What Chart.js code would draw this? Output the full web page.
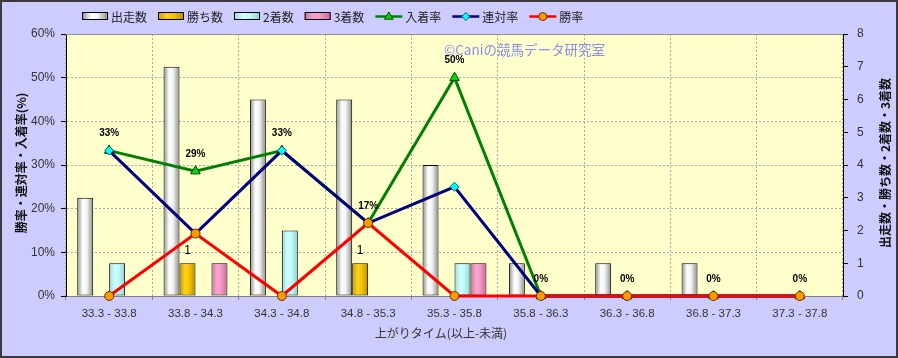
<!DOCTYPE html>
<html><head><meta charset="utf-8">
<script src="https://cdn.jsdelivr.net/npm/chart.js@4.4.0/dist/chart.umd.min.js"></script>
<style>html,body{margin:0;padding:0;background:#ccccff;}#wrap{width:898px;height:358px;position:relative}</style>
</head><body><div id="wrap"><canvas id="c" width="898" height="358"></canvas></div>
<script>
const categories = ["33.3 - 33.8","33.8 - 34.3","34.3 - 34.8","34.8 - 35.3","35.3 - 35.8","35.8 - 36.3","36.3 - 36.8","36.8 - 37.3","37.3 - 37.8"];
const starts   = [3, 7, 6, 6, 4, 1, 1, 1, 0];
const wins     = [0, 1, 0, 1, 0, 0, 0, 0, 0];
const seconds  = [1, 0, 2, 0, 1, 0, 0, 0, 0];
const thirds   = [0, 1, 0, 0, 1, 0, 0, 0, 0];
const placeRate    = [33.3, 28.6, 33.3, 16.7, 50, 0, 0, 0, 0];
const quinellaRate = [33.3, 14.3, 33.3, 16.7, 25, 0, 0, 0, 0];
const winRate      = [0, 14.3, 0, 16.7, 0, 0, 0, 0, 0];
const leftMax = 60, leftStep = 10;
const rightMax = 8, rightStep = 1;
const leftTitle = "勝率・連対率・入着率(%)";
const rightTitle = "出走数・勝ち数・2着数・3着数";
const xTitle = "上がりタイム(以上-未満)";
const watermark = "©Caniの競馬データ研究室";

const FF = '"Noto Sans CJK JP", "DejaVu Sans", sans-serif';
const NF = '"Liberation Sans", Arial, sans-serif';
const nz = a => a.map(v => v === 0 ? null : v);

const grads = {
  gray: [[0,'#8c8c8c'],[0.35,'#ffffff'],[0.6,'#f2f2f2'],[1,'#8a8a8a']],
  gold: [[0,'#c89a00'],[0.35,'#ffd21a'],[0.6,'#f5c400'],[1,'#b88a00']],
  cyan: [[0,'#9ad8d8'],[0.35,'#ccffff'],[0.6,'#c0fafa'],[1,'#90d0d0']],
  pink: [[0,'#d070a0'],[0.35,'#f8a8d0'],[0.6,'#f29ac6'],[1,'#c86898']]
};

const barBase = {type:'bar', yAxisID:'y1', borderColor:'#000', borderWidth:1, borderSkipped:false,
  categoryPercentage:0.74, barPercentage:1.0, order:10};

const datasets = [
  Object.assign({}, barBase, {label:'出走数', data:nz(starts), backgroundColor:'#eeeeee', grad:'gray'}),
  Object.assign({}, barBase, {label:'勝ち数', data:nz(wins), backgroundColor:'#ffcc00', grad:'gold', showLabels:true}),
  Object.assign({}, barBase, {label:'2着数', data:nz(seconds), backgroundColor:'#c0ffff', grad:'cyan'}),
  Object.assign({}, barBase, {label:'3着数', data:nz(thirds), backgroundColor:'#f29ac6', grad:'pink'}),
  {type:'line', label:'入着率', data:placeRate, yAxisID:'y', borderColor:'#008000', borderWidth:3,
   pointStyle:'triangle', pointRadius:5.5, pointBackgroundColor:'#00dd00', pointBorderColor:'#004000', pointBorderWidth:1,
   order:3, pctLabels:true, tension:0, clip:6},
  {type:'line', label:'連対率', data:quinellaRate, yAxisID:'y', borderColor:'#000080', borderWidth:3,
   pointStyle:'rectRot', pointRadius:4.5, pointBackgroundColor:'#00ffff', pointBorderColor:'#006060', pointBorderWidth:1,
   order:2, tension:0, clip:6},
  {type:'line', label:'勝率', data:winRate, yAxisID:'y', borderColor:'#ff0000', borderWidth:3,
   pointStyle:'circle', pointRadius:4.5, pointBackgroundColor:'#ff9900', pointBorderColor:'#703000', pointBorderWidth:1,
   order:1, tension:0, clip:6}
];

function makeGrad(ctx, x0, w, key){
  const g = ctx.createLinearGradient(x0, 0, x0 + w, 0);
  grads[key].forEach(([o,c]) => g.addColorStop(o, c));
  return g;
}

function marker(ctx, style, x, y, r, fill, stroke){
  ctx.save();
  ctx.fillStyle = fill; ctx.strokeStyle = stroke; ctx.lineWidth = 1;
  ctx.beginPath();
  if (style === 'triangle'){
    ctx.moveTo(x, y - r); ctx.lineTo(x + r*0.95, y + r*0.6); ctx.lineTo(x - r*0.95, y + r*0.6); ctx.closePath();
  } else if (style === 'rectRot'){
    ctx.moveTo(x, y - r); ctx.lineTo(x + r, y); ctx.lineTo(x, y + r); ctx.lineTo(x - r, y); ctx.closePath();
  } else {
    ctx.arc(x, y, r, 0, Math.PI*2);
  }
  ctx.fill(); ctx.stroke();
  ctx.restore();
}

const deco = {
  id: 'deco',
  beforeDraw(chart){
    const {ctx, chartArea:a} = chart;
    ctx.save();
    ctx.fillStyle = '#ccccff'; ctx.fillRect(0, 0, chart.width, chart.height);
    ctx.fillStyle = '#ffffcc'; ctx.fillRect(a.left, a.top, a.right - a.left, a.bottom - a.top);
    ctx.restore();
  },
  beforeDatasetsDraw(chart){
    const ctx = chart.ctx, a = chart.chartArea;
    ctx.save();
    ctx.strokeStyle = '#909090'; ctx.lineWidth = 1;
    ctx.beginPath(); ctx.moveTo(a.left, a.top + 0.5); ctx.lineTo(a.right, a.top + 0.5); ctx.stroke();
    ctx.restore();
    chart.data.datasets.forEach((ds, i) => {
      if (ds.type !== 'bar') return;
      const meta = chart.getDatasetMeta(i);
      meta.data.forEach(el => {
        if (!el || !isFinite(el.x) || !el.width) return;
        const g = makeGrad(ctx, el.x - el.width/2, el.width, ds.grad);
        el.options = Object.assign({}, el.options, {backgroundColor: g});
      });
    });
  },
  afterDatasetsDraw(chart){
    const ctx = chart.ctx;
    ctx.save();
    ctx.textAlign = 'center'; ctx.textBaseline = 'middle'; ctx.fillStyle = '#000';
    chart.data.datasets.forEach((ds, i) => {
      const meta = chart.getDatasetMeta(i);
      if (ds.pctLabels){
        ctx.font = 'bold 10px ' + NF;
        meta.data.forEach((el, j) => {
          ctx.fillText(Math.round(ds.data[j]) + '%', el.x, el.y - 17);
        });
      }
      if (ds.showLabels){
        ctx.font = '12px ' + NF;
        meta.data.forEach((el, j) => {
          if (ds.data[j] == null) return;
          ctx.fillText(String(ds.data[j]), el.x, el.y - 13);
        });
      }
    });
    ctx.restore();
  },
  afterDraw(chart){
    const ctx = chart.ctx;
    ctx.save();
    ctx.font = '13.5px ' + FF; ctx.fillStyle = '#8c8cf0'; ctx.textBaseline = 'middle'; ctx.textAlign = 'left';
    ctx.fillText(watermark, 444, 50);
    ctx.font = '12px ' + FF; ctx.fillStyle = '#222';
    let x = 82; const y = 16;
    chart.data.datasets.forEach(ds => {
      if (ds.type === 'bar'){
        ctx.fillStyle = makeGrad(ctx, x, 26, ds.grad);
        ctx.fillRect(x, y - 3, 26, 7);
        ctx.strokeStyle = '#000'; ctx.lineWidth = 1;
        ctx.strokeRect(x + 0.5, y - 3.5, 25, 7);
        x += 29;
      } else {
        ctx.strokeStyle = ds.borderColor; ctx.lineWidth = 2.5;
        ctx.beginPath(); ctx.moveTo(x, y + 0.5); ctx.lineTo(x + 27, y + 0.5); ctx.stroke();
        marker(ctx, ds.pointStyle, x + 13.5, y + 0.5, ds.pointStyle === 'triangle' ? 4.5 : 4, ds.pointBackgroundColor, ds.pointBorderColor);
        x += 30;
      }
      ctx.fillStyle = '#222'; ctx.textAlign = 'left'; ctx.textBaseline = 'middle';
      ctx.fillText(ds.label, x, y + 1);
      x += ctx.measureText(ds.label).width + 11;
    });
    ctx.fillStyle = '#111'; ctx.font = 'bold 12px ' + FF; ctx.textAlign = 'center'; ctx.textBaseline = 'middle';
    ctx.save(); ctx.translate(21, 163); ctx.rotate(-Math.PI/2); ctx.fillText(leftTitle, 0, 0); ctx.restore();
    ctx.save(); ctx.translate(885, 163); ctx.rotate(-Math.PI/2); ctx.fillText(rightTitle, 0, 0); ctx.restore();
    ctx.font = '12px ' + FF; ctx.fillStyle = '#333';
    ctx.fillText(xTitle, 441, 333);
    ctx.strokeStyle = '#3a3a3a'; ctx.lineWidth = 2;
    ctx.strokeRect(1, 1, chart.width - 2, chart.height - 2);
    ctx.restore();
  }
};

new Chart(document.getElementById('c'), {
  type: 'bar',
  data: {labels: categories, datasets: datasets},
  plugins: [deco],
  options: {
    responsive: false, animation: false, devicePixelRatio: 1,
    layout: {padding: {top: 34, left: 0, right: 0, bottom: 0}},
    plugins: {legend: {display: false}, tooltip: {enabled: false}, title: {display: false}},
    scales: {
      x: {
        offset: true,
        grid: {offset: true, color: '#a8a8a8', tickLength: 4, tickColor: '#808080'},
        border: {color: '#808080', dash: [2, 2]},
        ticks: {color: '#333', font: {family: NF, size: 11.5}, padding: 7, maxRotation: 0, autoSkip: false},
        afterFit(s){ s.height = 62; }
      },
      y: {
        position: 'left', min: 0, max: leftMax,
        grid: {color: '#a8a8a8', tickLength: 5, tickColor: '#000'},
        border: {color: '#000', dash: [2, 2]},
        ticks: {stepSize: leftStep, color: '#333', font: {family: NF, size: 12}, padding: 6, callback: v => v + '%'},
        afterFit(s){ s.width = 66; }
      },
      y1: {
        position: 'right', min: 0, max: rightMax,
        grid: {drawOnChartArea: false, tickLength: 5, tickColor: '#000'},
        border: {color: '#000'},
        ticks: {stepSize: rightStep, color: '#333', font: {family: NF, size: 12}, padding: 9},
        afterFit(s){ s.width = 55; }
      }
    }
  }
});
</script></body></html>
